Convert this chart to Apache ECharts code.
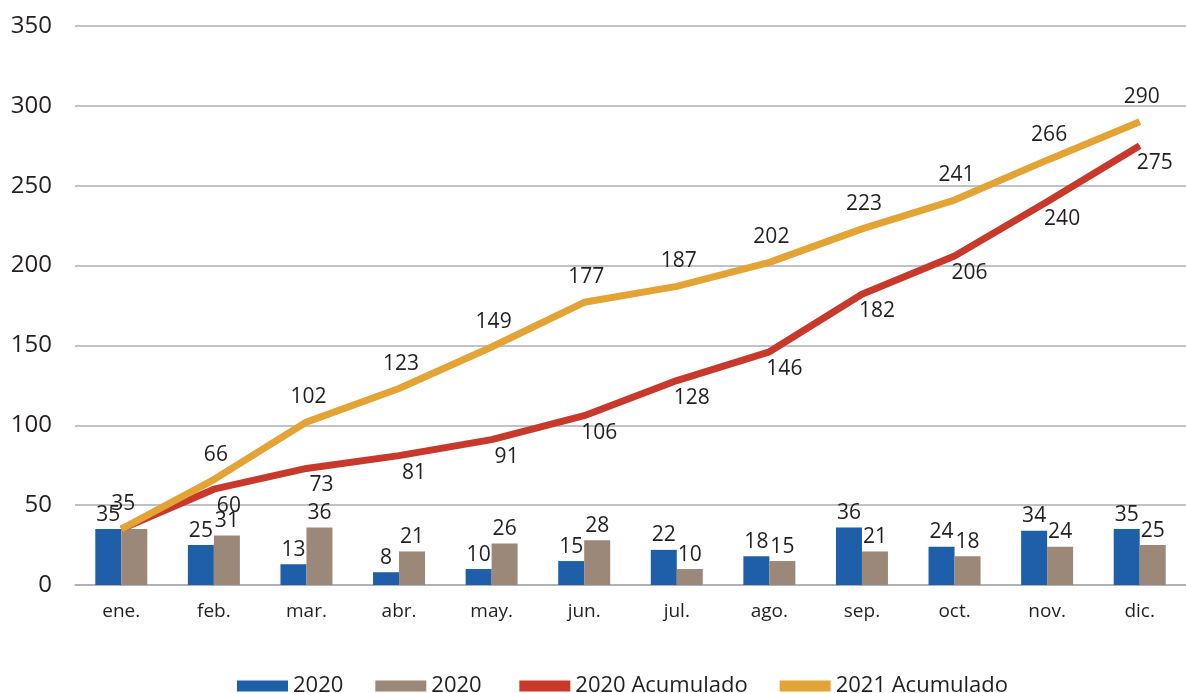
<!DOCTYPE html>
<html>
<head>
<meta charset="utf-8">
<script src="https://cdn.jsdelivr.net/npm/echarts@6/dist/echarts.min.js"></script>
<style>
html,body{margin:0;padding:0;background:#fff;}
#c{width:1186px;height:693px;}
</style>
</head>
<body>
<div id="c"></div>
<script>
const categories = ['ene.','feb.','mar.','abr.','may.','jun.','jul.','ago.','sep.','oct.','nov.','dic.'];
const bars2020a = [35,25,13,8,10,15,22,18,36,24,34,35];
const bars2020b = [35,31,36,21,26,28,10,15,21,18,24,25];
const acum2020 = [35,60,73,81,91,106,128,146,182,206,240,275];
const acum2021 = [35,66,102,123,149,177,187,202,223,241,266,290];
const yTicks = [0,50,100,150,200,250,300,350];

const TXT = '#231f20';
const FONT = 'Open Sans';
const GRID = '#a8afb5';

function hideFirst(arr){
  return arr.map((v,i)=> i===0 ? {value:v, label:{show:false}} : v);
}

const chart = echarts.init(document.getElementById('c'), null, {renderer:'canvas'});
chart.setOption({
  backgroundColor:'#fff',
  animation:false,
  textStyle:{fontFamily:FONT, color:TXT},
  grid:{left:75, right:0, top:26, bottom:108, containLabel:false},
  legend:{
    left:232, top:670,
    icon:'rect', itemWidth:51, itemHeight:11, itemGap:32,
    textStyle:{fontFamily:FONT, fontSize:22, color:TXT},
    data:['2020','2020 ','2020 Acumulado','2021 Acumulado']
  },
  xAxis:{
    type:'category', data:categories,
    axisTick:{show:false},
    axisLine:{lineStyle:{color:GRID, width:1.5}},
    axisLabel:{fontFamily:FONT, fontSize:19, color:TXT, margin:17}
  },
  yAxis:{
    type:'value', min:yTicks[0], max:yTicks[yTicks.length-1], interval:50,
    axisLine:{show:false}, axisTick:{show:false},
    splitLine:{lineStyle:{color:GRID, width:1.5}},
    axisLabel:{fontFamily:FONT, fontSize:24, color:TXT, margin:23}
  },
  series:[
    {
      name:'2020', type:'bar', data:bars2020a, barWidth:26, barGap:'0%',
      itemStyle:{color:'#1f5ea8'},
      label:{show:true, position:'top', distance:4, fontFamily:FONT, fontSize:21, color:TXT},
      z:2
    },
    {
      name:'2020 ', type:'bar', data:hideFirst(bars2020b), barWidth:26, barGap:'0%',
      itemStyle:{color:'#9b8878'},
      label:{show:true, position:'top', distance:4, fontFamily:FONT, fontSize:21, color:TXT},
      z:2
    },
    {
      name:'2020 Acumulado', type:'line', data:hideFirst(acum2020),
      symbol:'circle', symbolSize:1, showSymbol:true,
      lineStyle:{color:'#c8392b', width:7},
      itemStyle:{color:'#c8392b'},
      label:{show:true, position:'bottom', distance:6, offset:[15,0], fontFamily:FONT, fontSize:21, color:TXT},
      z:3
    },
    {
      name:'2021 Acumulado', type:'line', data:acum2021,
      symbol:'circle', symbolSize:1, showSymbol:true,
      lineStyle:{color:'#e4a335', width:7},
      itemStyle:{color:'#e4a335'},
      label:{show:true, position:'top', distance:14, offset:[2,0], fontFamily:FONT, fontSize:21, color:TXT},
      z:4
    }
  ]
});
</script>
</body>
</html>
